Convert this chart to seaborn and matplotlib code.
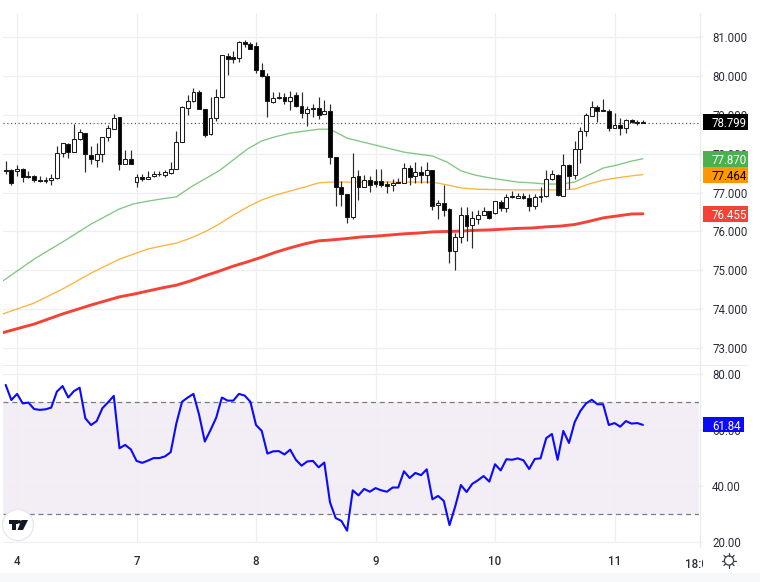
import matplotlib
matplotlib.use("Agg")
import matplotlib.pyplot as plt
from matplotlib.lines import Line2D
from matplotlib.patches import Circle, Polygon, Rectangle
from matplotlib.transforms import Affine2D, Bbox
import numpy as np
import pandas as pd
import seaborn as sns

candle_open = [77.57, 77.58, 77.55, 77.61, 77.43, 77.43, 77.32, 77.32, 77.32, 77.37,
               78.01, 78.25, 78.05, 78.37, 78.52, 77.97, 77.85, 77.98, 78.43, 78.64,
               78.94, 77.74, 77.86, 77.27, 77.40, 77.35, 77.42, 77.49, 77.45, 77.51,
               77.60, 78.30, 79.18, 79.35, 79.58, 79.16, 78.50, 78.93, 79.45, 80.52,
               80.48, 80.47, 80.86, 80.81, 80.77, 80.16, 79.99, 79.32, 79.45, 79.45,
               79.35, 79.50, 79.23, 79.05, 79.18, 79.18, 79.01, 79.11, 77.91, 77.14,
               76.96, 76.37, 77.43, 77.15, 77.32, 77.31, 77.31, 77.22, 77.19, 77.26,
               77.25, 77.62, 77.42, 77.52, 77.44, 77.57, 76.67, 76.74, 76.58, 75.49,
               75.87, 76.42, 76.16, 76.33, 76.43, 76.52, 76.47, 76.77, 76.60, 76.89,
               76.87, 76.92, 76.87, 76.66, 76.89, 76.90, 77.35, 77.45, 76.92, 77.72,
               77.44, 78.13, 78.58, 78.98, 79.21, 79.12, 79.11, 78.67, 78.75, 78.67,
               78.86, 78.82, 78.81]
candle_close = [77.55, 77.25, 77.61, 77.39, 77.40, 77.32, 77.30, 77.30, 77.38, 78.01,
                78.27, 78.05, 78.38, 78.55, 77.98, 77.86, 77.98, 78.43, 78.65, 78.93,
                77.74, 77.86, 77.74, 77.41, 77.36, 77.41, 77.48, 77.47, 77.52, 77.60,
                78.30, 79.19, 79.35, 79.58, 79.16, 78.48, 78.93, 79.45, 80.53, 80.44,
                80.44, 80.86, 80.81, 80.69, 80.15, 79.99, 79.35, 79.42, 79.42, 79.35,
                79.47, 79.23, 79.05, 79.16, 79.16, 79.00, 79.11, 77.91, 77.14, 76.96,
                76.37, 77.40, 77.15, 77.32, 77.20, 77.23, 77.20, 77.17, 77.25, 77.25,
                77.62, 77.41, 77.52, 77.44, 77.57, 76.66, 76.74, 76.54, 75.50, 75.87,
                76.42, 76.14, 76.34, 76.42, 76.52, 76.35, 76.78, 76.60, 76.89, 76.91,
                76.91, 76.87, 76.66, 76.89, 76.90, 77.36, 77.47, 76.93, 77.72, 77.43,
                78.13, 78.59, 78.99, 79.21, 79.11, 79.11, 78.67, 78.75, 78.67, 78.87,
                78.81, 78.79, 78.799]
candle_high = [77.81, 77.60, 77.71, 77.62, 77.55, 77.44, 77.43, 77.40, 77.47, 78.21,
               78.28, 78.28, 78.77, 78.63, 78.52, 78.21, 78.27, 78.44, 78.75, 79.01,
               78.95, 78.09, 78.09, 77.47, 77.48, 77.55, 77.55, 77.55, 77.58, 77.79,
               78.58, 79.23, 79.51, 79.68, 79.64, 79.16, 79.45, 79.67, 80.53, 80.60,
               80.63, 80.90, 80.92, 80.87, 80.87, 80.34, 80.08, 79.59, 79.58, 79.55,
               79.61, 79.59, 79.58, 79.23, 79.28, 79.47, 79.38, 79.28, 77.91, 77.31,
               76.96, 78.01, 77.58, 77.44, 77.43, 77.60, 77.60, 77.31, 77.34, 77.37,
               77.75, 77.71, 77.78, 77.68, 77.79, 77.57, 76.81, 77.19, 76.60, 75.95,
               76.64, 76.64, 76.53, 76.55, 76.64, 76.53, 76.79, 76.81, 76.96, 77.04,
               77.00, 76.98, 76.96, 76.96, 77.14, 77.58, 77.58, 77.49, 77.98, 77.73,
               78.33, 78.68, 79.05, 79.36, 79.26, 79.40, 79.14, 79.04, 78.91, 78.88,
               78.88, 78.87, 78.87]
candle_low = [77.48, 77.20, 77.43, 77.28, 77.38, 77.27, 77.28, 77.25, 77.20, 77.36,
              77.92, 77.90, 78.05, 78.35, 77.54, 77.73, 77.67, 77.79, 78.33, 78.63,
              77.59, 77.73, 77.73, 77.15, 77.31, 77.34, 77.41, 77.43, 77.39, 77.49,
              77.60, 78.29, 79.00, 79.34, 79.15, 78.44, 78.48, 78.85, 79.44, 80.02,
              80.32, 80.35, 80.75, 80.69, 80.07, 79.97, 78.95, 79.31, 79.41, 79.29,
              79.12, 79.21, 78.91, 78.71, 78.95, 78.88, 79.01, 77.73, 76.66, 76.66,
              76.21, 76.32, 76.81, 77.14, 77.02, 77.15, 77.14, 77.00, 77.04, 77.24,
              77.24, 77.20, 77.24, 77.24, 77.24, 76.55, 76.32, 76.40, 75.20, 75.01,
              75.70, 75.76, 75.57, 76.19, 76.42, 76.33, 76.45, 76.53, 76.50, 76.85,
              76.85, 76.84, 76.53, 76.57, 76.77, 76.89, 77.33, 76.91, 76.91, 77.08,
              77.34, 77.75, 78.45, 78.97, 78.82, 79.10, 78.59, 78.67, 78.49, 78.54,
              78.78, 78.74, 78.78]

ma_bars = [-0.5, 5, 10, 15, 20, 22.5, 25, 27.5, 30, 32.5, 35, 37.5, 40, 42.5, 45, 47.5,
           50, 52.5, 55, 57, 60, 62.5, 65, 70, 72.5, 75, 77.5, 80, 82.5, 85, 90, 92.5,
           95, 97.5, 100, 102.5, 105, 107.5, 110, 112]
ma_green = [74.73, 75.29, 75.73, 76.19, 76.58, 76.71, 76.78, 76.84, 76.89, 77.14,
            77.35, 77.56, 77.84, 78.12, 78.33, 78.44, 78.53, 78.58, 78.63, 78.63,
            78.40, 78.31, 78.22, 78.04, 77.99, 77.94, 77.79, 77.56, 77.45, 77.38,
            77.27, 77.25, 77.22, 77.22, 77.27, 77.45, 77.63, 77.71, 77.81, 77.87]
ma_orange = [73.88, 74.16, 74.52, 74.93, 75.29, 75.42, 75.55, 75.63, 75.70, 75.83,
             75.99, 76.19, 76.42, 76.63, 76.81, 76.94, 77.04, 77.14, 77.25, 77.27,
             77.27, 77.27, 77.27, 77.27, 77.27, 77.27, 77.20, 77.12, 77.09, 77.08,
             77.07, 77.07, 77.07, 77.07, 77.09, 77.22, 77.32, 77.38, 77.43, 77.464]
ma_red = [73.40, 73.62, 73.88, 74.11, 74.32, 74.39, 74.47, 74.55, 74.62, 74.73,
          74.86, 74.98, 75.11, 75.22, 75.34, 75.47, 75.58, 75.68, 75.76, 75.78,
          75.82, 75.86, 75.88, 75.94, 75.96, 75.99, 76.00, 76.01, 76.03, 76.04,
          76.08, 76.09, 76.12, 76.14, 76.18, 76.26, 76.35, 76.40, 76.45, 76.455]

rsi_values = [76.1, 70.7, 72.9, 69.5, 69.8, 67.5, 67.2, 67.4, 68.0, 73.7,
              75.7, 71.6, 73.9, 75.1, 64.2, 61.8, 63.2, 67.8, 69.9, 72.2,
              53.5, 54.7, 53.1, 49.0, 48.3, 49.1, 50.0, 50.0, 50.6, 52.1,
              62.4, 70.1, 71.6, 72.9, 65.4, 55.9, 60.0, 64.4, 71.6, 70.5,
              70.5, 72.9, 72.3, 70.1, 61.8, 59.7, 51.6, 52.4, 52.5, 51.3,
              53.0, 49.4, 47.3, 48.8, 49.0, 46.7, 48.4, 34.2, 28.6, 27.6,
              24.1, 38.5, 36.7, 39.0, 38.0, 39.3, 38.5, 38.0, 39.5, 39.5,
              45.3, 42.9, 44.7, 43.9, 46.0, 35.3, 36.5, 34.7, 26.1, 32.7,
              40.4, 37.9, 40.8, 42.1, 43.6, 41.6, 47.8, 45.6, 49.6, 49.4,
              49.9, 49.2, 46.1, 49.7, 49.9, 57.1, 58.6, 49.4, 59.7, 55.4,
              62.8, 66.8, 69.5, 70.8, 69.2, 69.2, 61.8, 62.5, 61.2, 63.2,
              62.3, 62.5, 61.84]

price_ticks = [73, 74, 75, 76, 77, 78, 79, 80, 81]
rsi_ticks = [20, 40, 60, 80]
day_ticks = [2, 23, 44, 65, 86, 107]
day_labels = ["4", "7", "8", "9", "10", "11"]
last_price = 78.799

sns.set_theme(style="white")
plt.rcParams["font.family"] = ["Roboto", "DejaVu Sans"]

GRID = "#eeeff3"
TEXT = "#2a2e39"
FONT = 8.3

W, H = 760, 582
XMIN, XMAX = -0.47, 121.85
px = Affine2D().scale(1, -1).translate(0, H)


def pane(fig, top, bottom):
    """Axes placed by pixel rows, x range shared by both panes."""
    ax = fig.add_axes([3 / W, 1 - bottom / H, (699 - 3) / W, (bottom - top) / H])
    ax.set_xlim(XMIN, XMAX)
    ax.set_facecolor("none")
    for spine in ax.spines.values():
        spine.set_visible(False)
    ax.yaxis.tick_right()
    ax.tick_params(axis="y", length=3, color=GRID, pad=6.5, labelsize=FONT, labelcolor=TEXT)
    ax.set_axisbelow(True)
    ax.set_xticks(day_ticks)
    ax.grid(True, color=GRID, lw=0.9)
    return ax


def draw_candles(ax):
    df = pd.DataFrame({"open": candle_open, "close": candle_close,
                       "high": candle_high, "low": candle_low})
    df["bar"] = df.index
    up = df["close"] >= df["open"]
    ax.vlines(df["bar"], df["low"], df["high"], color="#2b2b2b", lw=0.85, zorder=3)
    ax.bar(df["bar"], (df["close"] - df["open"]).abs(), bottom=df[["open", "close"]].min(axis=1),
           width=0.68, color=np.where(up, "white", "black"), edgecolor="#1c1c1c", lw=0.75, zorder=4)


def badge(fig, x0, y0, x1, y1, label, face, text_color="white"):
    fig.add_artist(Rectangle((x0, y0), x1 - x0, y1 - y0, transform=px, fc=face, ec="none", zorder=5))
    fig.text(712, (y0 + y1) / 2, label, transform=px, color=text_color, fontsize=FONT,
             ha="left", va="center_baseline", zorder=6)


def draw_logo(fig):
    fig.add_artist(Circle((18, 525), 15.5, transform=px, fc="white", ec="#e6e7ec", lw=0.9, zorder=5))
    shapes = [[(8.5, 520), (17.5, 520), (17.5, 523.5), (16, 523.5), (16, 530), (12, 530), (12, 523.5), (8.5, 523.5)],
              [(21.5, 520), (28, 520), (23, 530), (17.5, 530)]]
    for pts in shapes:
        fig.add_artist(Polygon(pts, transform=px, fc="#131722", ec="none", zorder=6))
    fig.add_artist(Circle((19.3, 521.8), 1.8, transform=px, fc="#131722", ec="none", zorder=6))


def draw_sun(fig):
    cx, cy = 729, 560.5
    fig.add_artist(Circle((cx, cy), 4.6, transform=px, fc="none", ec="#3a3d45", lw=0.9, zorder=5))
    for a in np.arange(8) * np.pi / 4:
        fig.add_artist(Line2D([cx + 4.6 * np.cos(a), cx + 7.2 * np.cos(a)],
                              [cy + 4.6 * np.sin(a), cy + 7.2 * np.sin(a)],
                              transform=px, color="#3a3d45", lw=0.9, zorder=5))


fig = plt.figure(figsize=(W / 100, H / 100), dpi=100, facecolor="white")

# price pane
ax = pane(fig, 13, 365)
ax.set_ylim(72.568, 81.617)
ax.set_yticks(price_ticks)
ax.set_yticklabels([f"{t:.3f}" for t in price_ticks])
ax.tick_params(axis="x", length=0, labelbottom=False)
sns.lineplot(x=ma_bars, y=ma_green, color="#4caf50", alpha=0.7, lw=0.95, ax=ax, zorder=2, estimator=None)
sns.lineplot(x=ma_bars, y=ma_orange, color="#ff9800", alpha=0.75, lw=0.95, ax=ax, zorder=2, estimator=None)
sns.lineplot(x=ma_bars, y=ma_red, color="#f44336", lw=2.1, ax=ax, zorder=2, estimator=None)
draw_candles(ax)
ax.axhline(last_price, color="#555861", lw=0.9, ls=(0, (1, 2)), zorder=2.5)

# rsi pane
ax2 = pane(fig, 366, 543)
ax2.set_ylim(19.71, 82.85)
ax2.set_yticks(rsi_ticks)
ax2.set_yticklabels([f"{t:.2f}" for t in rsi_ticks])
ax2.axhspan(30, 70, color="#8e4fb0", alpha=0.1, lw=0, zorder=0.5)
ax2.axhline(70, color="#787b86", lw=0.9, ls=(0, (4, 3)), zorder=1.5)
ax2.axhline(30, color="#787b86", lw=0.9, ls=(0, (4, 3)), zorder=1.5)
sns.lineplot(x=range(len(rsi_values)), y=rsi_values, color="#0a0aff", lw=1.5, ax=ax2, zorder=3, estimator=None)
ax2.set_xticklabels(day_labels)
ax2.tick_params(axis="x", length=0, pad=8.6, labelsize=FONT, labelcolor=TEXT)
for lab in ax2.get_xticklabels():
    lab.set_fontweight("medium")

clipped = ax2.text(122.0, -0.085, "18:00", transform=ax2.get_xaxis_transform(), fontsize=FONT,
                   color=TEXT, ha="center", va="top", fontweight="medium")
clipped.set_clip_box(Bbox([[0, 0], [703, H]]))
clipped.set_clip_on(True)

# frame lines of the chart widget
fig.add_artist(Line2D([699.5, 699.5], [13, 547], transform=px, color="#e9eaee", lw=0.9, zorder=1))
fig.add_artist(Rectangle((3, 364.6), 745, 1.6, transform=px, fc="#e7ebf3", ec="none", zorder=1))
fig.add_artist(Rectangle((0, 573), W, 9, transform=px, fc="#f7f8f9", ec="none", zorder=1))

badge(fig, 703, 114, 748, 130, "78.799", "black")
badge(fig, 703, 151, 748, 167, "77.870", "#4caf50")
badge(fig, 703, 167, 748, 183, "77.464", "#ff9800", "black")
badge(fig, 703, 206, 748, 222, "76.455", "#f44336")
badge(fig, 703, 417, 744, 432, "61.84", "#0a0aff")

draw_logo(fig)
draw_sun(fig)

plt.savefig("out.png", dpi=100)
